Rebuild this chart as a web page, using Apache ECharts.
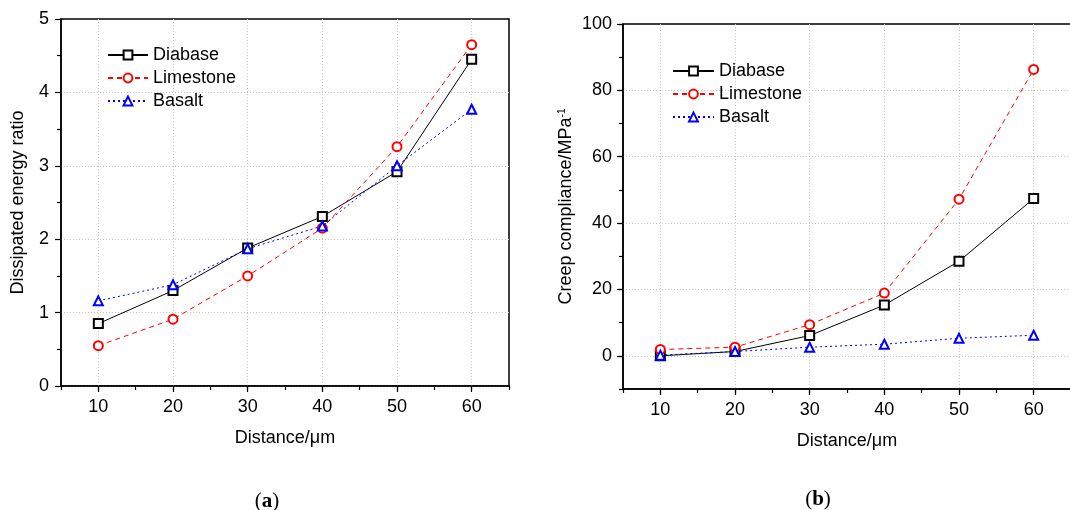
<!DOCTYPE html>
<html>
<head>
<meta charset="utf-8">
<script src="https://cdn.jsdelivr.net/npm/echarts@6/dist/echarts.min.js"></script>
<style>html,body{margin:0;padding:0;background:#fff;}#c{width:1070px;height:510px;}</style>
</head>
<body>
<div id="c"></div>
<script>
const distances = [10, 20, 30, 40, 50, 60];
const seriesNames = ['Diabase', 'Limestone', 'Basalt'];
// (a) Dissipated energy ratio
const energyDiabase   = [0.85, 1.30, 1.88, 2.31, 2.92, 4.45];
const energyLimestone = [0.55, 0.91, 1.50, 2.15, 3.26, 4.65];
const energyBasalt    = [1.16, 1.38, 1.87, 2.18, 3.00, 3.77];
// (b) Creep compliance / MPa^-1
const creepDiabase    = [0.0, 1.3, 6.1, 15.3, 28.5, 47.4];
const creepLimestone  = [1.9, 2.6, 9.4, 18.9, 47.2, 86.3];
const creepBasalt     = [0.2, 1.3, 2.6, 3.5, 5.3, 6.2];
const xMajorTicks = [10, 20, 30, 40, 50, 60];
const yRightMajorTicks = [0, 20, 40, 60, 80, 100];

const FONT = 'Liberation Sans, Arial, sans-serif';
const pair = (ys) => distances.map((x, i) => [x, ys[i]]);

const styles = {
  Diabase:   { color: '#000000', symbol: 'emptyRect', type: 'solid' },
  Limestone: { color: '#ff0000', symbol: 'emptyCircle', type: [5, 4] },
  Basalt:    { color: '#0000ff', symbol: 'emptyTriangle', type: [2, 3] }
};

function mkSeries(name, data, xi, yi) {
  const s = styles[name];
  return {
    name, type: 'line', xAxisIndex: xi, yAxisIndex: yi, data: pair(data),
    symbol: s.symbol, symbolSize: 9, showAllSymbol: true,
    lineStyle: { color: s.color, width: 1, type: s.type },
    itemStyle: { color: s.color, borderColor: s.color, borderWidth: 1 },
    emphasis: { disabled: true }, animation: false
  };
}

const gridLine = { show: true, showMaxLine: false, lineStyle: { color: ['transparent', '#c4c4c4'], width: 1, type: [1, 2] } };
const axisLineS = { show: true, onZero: false, lineStyle: { color: '#000', width: 1.5 } };

function xMain(gi) {
  return {
    type: 'value', gridIndex: gi, min: 5, max: 65, interval: 5,
    axisLine: axisLineS,
    axisTick: { show: true, length: 4, lineStyle: { color: '#000', width: 1.2 } },
    axisLabel: { margin: 12, fontSize: 18, color: '#000', fontFamily: FONT,
      formatter: v => (v % 10 === 0 ? String(v) : '') },
    splitLine: gridLine,
    name: 'Distance/μm', nameLocation: 'middle', nameGap: 43,
    nameTextStyle: { fontSize: 18, color: '#000', fontFamily: FONT }
  };
}
function xMajor(gi) {
  return {
    type: 'value', gridIndex: gi, min: 5, max: 65, position: 'bottom',
    axisLine: { show: false, onZero: false },
    axisTick: { show: true, length: 6, customValues: xMajorTicks, lineStyle: { color: '#000', width: 1.2 } },
    axisLabel: { show: false }, splitLine: { show: false }
  };
}

const option = {
  backgroundColor: '#ffffff',
  animation: false,
  textStyle: { fontFamily: FONT },
  grid: [
    { left: 61, top: 19, width: 448, height: 367, show: true, borderColor: '#000', borderWidth: 1.5,
      backgroundColor: 'transparent', containLabel: false, outerBoundsMode: 'none' },
    { left: 623, top: 24, width: 448, height: 365, show: true, borderColor: '#000', borderWidth: 1.5,
      backgroundColor: 'transparent', containLabel: false, outerBoundsMode: 'none' }
  ],
  xAxis: [xMain(0), xMain(1), xMajor(0), xMajor(1)],
  yAxis: [
    {
      type: 'value', gridIndex: 0, min: 0, max: 5, interval: 1,
      axisLine: axisLineS,
      axisTick: { show: true, length: 6, lineStyle: { color: '#000', width: 1.2 } },
      minorTick: { show: true, splitNumber: 2, length: 4, lineStyle: { color: '#000', width: 1.2 } },
      axisLabel: { margin: 12, fontSize: 18, color: '#000', fontFamily: FONT },
      splitLine: { show: true, showMaxLine: false, lineStyle: { color: '#c4c4c4', width: 1, type: [1, 2] } },
      name: 'Dissipated energy ratio', nameLocation: 'middle', nameGap: 34, nameRotate: 90,
      nameTextStyle: { fontSize: 18, color: '#000', fontFamily: FONT }
    },
    {
      type: 'value', gridIndex: 1, min: -10, max: 100, interval: 10,
      axisLine: axisLineS,
      axisTick: { show: true, length: 4, lineStyle: { color: '#000', width: 1.2 } },
      axisLabel: { margin: 11, fontSize: 18, color: '#000', fontFamily: FONT,
        formatter: v => (v % 20 === 0 ? String(v) : '') },
      splitLine: gridLine,
      name: 'Creep compliance/MPa{sup|-1}', nameLocation: 'middle', nameGap: 48, nameRotate: 90,
      nameTextStyle: { fontSize: 18, color: '#000', fontFamily: FONT,
        rich: { sup: { fontSize: 10, color: '#000', fontFamily: FONT, verticalAlign: 'top', padding: [0, 0, 8, 0] } } }
    },
    {
      type: 'value', gridIndex: 1, min: -10, max: 100, position: 'left',
      axisLine: { show: false, onZero: false },
      axisTick: { show: true, length: 6, customValues: yRightMajorTicks, lineStyle: { color: '#000', width: 1.2 } },
      axisLabel: { show: false }, splitLine: { show: false }
    }
  ],
  legend: [
    { left: 107, top: 45, orient: 'vertical', padding: 0, itemWidth: 40, itemHeight: 11, itemGap: 3,
      data: seriesNames, selectedMode: false,
      textStyle: { fontSize: 18, color: '#000', fontFamily: FONT, lineHeight: 20 } },
    { left: 672, top: 61, orient: 'vertical', padding: 0, itemWidth: 41, itemHeight: 11, itemGap: 3,
      data: seriesNames, selectedMode: false,
      textStyle: { fontSize: 18, color: '#000', fontFamily: FONT, lineHeight: 20 } }
  ],
  title: [
    { text: '({b|a})', left: 262, top: 486, textAlign: 'center',
      textStyle: { fontSize: 21, fontWeight: 'normal', color: '#000', fontFamily: 'Liberation Serif, serif',
        rich: { b: { fontSize: 21, fontWeight: 'bold', color: '#000', fontFamily: 'Liberation Serif, serif' } } } },
    { text: '({b|b})', left: 813, top: 484, textAlign: 'center',
      textStyle: { fontSize: 21, fontWeight: 'normal', color: '#000', fontFamily: 'Liberation Serif, serif',
        rich: { b: { fontSize: 21, fontWeight: 'bold', color: '#000', fontFamily: 'Liberation Serif, serif' } } } }
  ],
  series: [
    mkSeries('Diabase', energyDiabase, 0, 0),
    mkSeries('Limestone', energyLimestone, 0, 0),
    mkSeries('Basalt', energyBasalt, 0, 0),
    mkSeries('Diabase', creepDiabase, 1, 1),
    mkSeries('Limestone', creepLimestone, 1, 1),
    mkSeries('Basalt', creepBasalt, 1, 1)
  ]
};

const chart = echarts.init(document.getElementById('c'), null, { renderer: 'canvas' });
chart.setOption(option);
</script>
</body>
</html>
